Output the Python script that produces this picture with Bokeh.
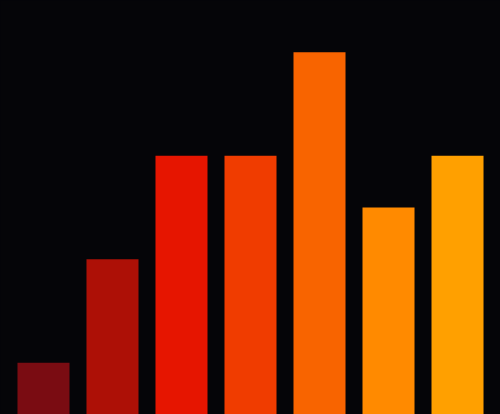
from bokeh.plotting import figure
from bokeh.models import Range1d
from bokeh.embed import file_html
from bokeh.resources import INLINE

categories = ["A", "B", "C", "D", "E", "F", "G"]
values = [1, 3, 5, 5, 7, 4, 5]
colors = ["#7a0c12", "#ad1006", "#e61500", "#f03c00", "#f86400", "#ff8a00", "#ffa000"]
bg = "#050508"

xs = list(range(len(categories)))

p = figure(width=500, height=414, output_backend="svg", toolbar_location=None,
           x_range=Range1d(-0.623, 6.623), y_range=Range1d(0, 8.0),
           min_border=0, min_border_left=0, min_border_right=0,
           min_border_top=0, min_border_bottom=0)
p.background_fill_color = bg
p.border_fill_color = bg
p.outline_line_color = None
p.axis.visible = False
p.grid.visible = False

p.vbar(x=xs, top=values, bottom=0, width=0.754, fill_color=colors,
       line_color=colors, line_alpha=0.0)

html = file_html(p, INLINE)
html = html.replace("<head>", "<head><style>html,body{margin:0;padding:0;background:%s;}</style>" % bg, 1)
open("out.html", "w").write(html)
